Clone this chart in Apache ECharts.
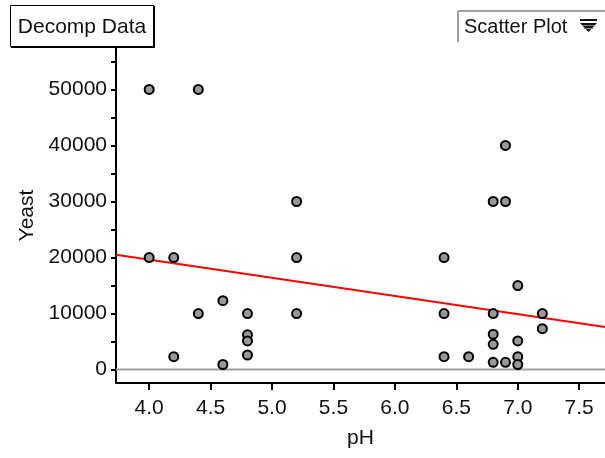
<!DOCTYPE html>
<html>
<head>
<meta charset="utf-8">
<script src="https://cdn.jsdelivr.net/npm/echarts@6/dist/echarts.min.js"></script>
<style>
html,body{margin:0;padding:0;background:#fff;}
#chart{width:605px;height:458px;}
</style>
</head>
<body>
<div id="chart"></div>
<script>
// Data
const phValues = [4.0,4.0,4.2,4.2,4.4,4.4,4.6,4.6,4.8,4.8,4.8,4.8,5.2,5.2,5.2,6.4,6.4,6.4,6.6,6.8,6.8,6.8,6.8,6.8,6.9,6.9,6.9,7.0,7.0,7.0,7.0,7.2,7.2];
const yeastValues = [50000,20000,20000,2300,50000,10000,12300,900,10000,6200,5100,2600,30000,20000,10000,20000,10000,2300,2300,30000,10000,6300,4500,1300,40000,30000,1300,15000,5100,2300,900,10000,7300];
const xTickValues = [4.0,4.5,5.0,5.5,6.0,6.5,7.0,7.5];
const yTickValues = [0,5000,10000,15000,20000,25000,30000,35000,40000,45000,50000,55000];
const yLabelValues = [0,10000,20000,30000,40000,50000];
const fitSlope = -3236;
const fitIntercept = 32550;
const xMin = 3.73, xMax = 7.71;
const yMin = -2400, yMax = 57400;

const points = phValues.map((p, i) => [p, yeastValues[i]]);
const fitLine = [[xMin, fitIntercept + fitSlope * xMin], [xMax, fitIntercept + fitSlope * xMax]];

const FONT = 'Liberation Sans, Arial, sans-serif';
const FS = 21;
const chart = echarts.init(document.getElementById('chart'), null, {renderer: 'canvas'});
chart.setOption({
  animation: false,
  backgroundColor: '#ffffff',
  grid: {left: 116, right: 0, top: 48, bottom: 75, containLabel: false},
  xAxis: {
    type: 'value', min: xMin, max: xMax,
    name: 'pH', nameLocation: 'middle', nameGap: 45,
    nameTextStyle: {fontFamily: FONT, fontSize: FS, color: '#111'},
    axisLine: {show: true, onZero: false, lineStyle: {color: '#000', width: 2}},
    axisTick: {show: true, length: 7, lineStyle: {color: '#000', width: 2}, customValues: xTickValues},
    axisLabel: {fontFamily: FONT, fontSize: FS, color: '#111', margin: 15, customValues: xTickValues,
      formatter: v => v.toFixed(1)},
    splitLine: {show: false}
  },
  yAxis: {
    type: 'value', min: yMin, max: yMax,
    name: 'Yeast', nameLocation: 'middle', nameGap: 77, nameRotate: 90,
    nameTextStyle: {fontFamily: FONT, fontSize: FS, color: '#111'},
    axisLine: {show: true, onZero: false, lineStyle: {color: '#000', width: 2}},
    axisTick: {show: true, length: 5, lineStyle: {color: '#000', width: 2}, customValues: yTickValues},
    axisLabel: {fontFamily: FONT, fontSize: FS, color: '#111', margin: 9, customValues: yLabelValues,
      formatter: v => String(v)},
    splitLine: {show: false}
  },
  graphic: [
    {type: 'rect', shape: {x: 10.5, y: 5.5, width: 143, height: 41}, style: {fill: '#fff', stroke: '#000', lineWidth: 1}},
    {type: 'line', shape: {x1: 154, y1: 6, x2: 154, y2: 47}, style: {stroke: '#000', lineWidth: 2}},
    {type: 'line', shape: {x1: 11, y1: 47, x2: 155, y2: 47}, style: {stroke: '#000', lineWidth: 2}},
    {type: 'text', x: 82, y: 27, style: {text: 'Decomp Data', font: '21px Liberation Sans, Arial, sans-serif', fill: '#111', textAlign: 'center', textVerticalAlign: 'middle'}},
    {type: 'line', shape: {x1: 458, y1: 11, x2: 605, y2: 11}, style: {stroke: '#a0a0a0', lineWidth: 2}},
    {type: 'line', shape: {x1: 458, y1: 11, x2: 458, y2: 42}, style: {stroke: '#a0a0a0', lineWidth: 2}},
    {type: 'text', x: 464, y: 27, style: {text: 'Scatter Plot', font: '20px Liberation Sans, Arial, sans-serif', fill: '#111', textAlign: 'left', textVerticalAlign: 'middle'}},
    {type: 'line', shape: {x1: 580, y1: 20, x2: 597, y2: 20}, style: {stroke: '#111', lineWidth: 2}},
    {type: 'polygon', shape: {points: [[580, 23], [597, 23], [588.5, 32]]}, style: {fill: '#111'}},
    {type: 'line', shape: {x1: 582, y1: 25.5, x2: 595, y2: 25.5}, style: {stroke: '#888', lineWidth: 1}},
    {type: 'line', shape: {x1: 584, y1: 28.5, x2: 593, y2: 28.5}, style: {stroke: '#888', lineWidth: 1}}
  ],
  series: [
    {
      type: 'line', data: [[xMin, 0], [xMax, 0]], symbol: 'none', silent: true, z: 1,
      lineStyle: {color: '#a0a0a0', width: 2}
    },
    {
      type: 'line', data: fitLine, symbol: 'none', silent: true, z: 2,
      lineStyle: {color: '#ff0000', width: 2}
    },
    {
      type: 'scatter', data: points, symbol: 'circle', symbolSize: 9, z: 3,
      itemStyle: {color: '#999999', borderColor: '#000', borderWidth: 2, opacity: 1}
    }
  ]
});
</script>
</body>
</html>
